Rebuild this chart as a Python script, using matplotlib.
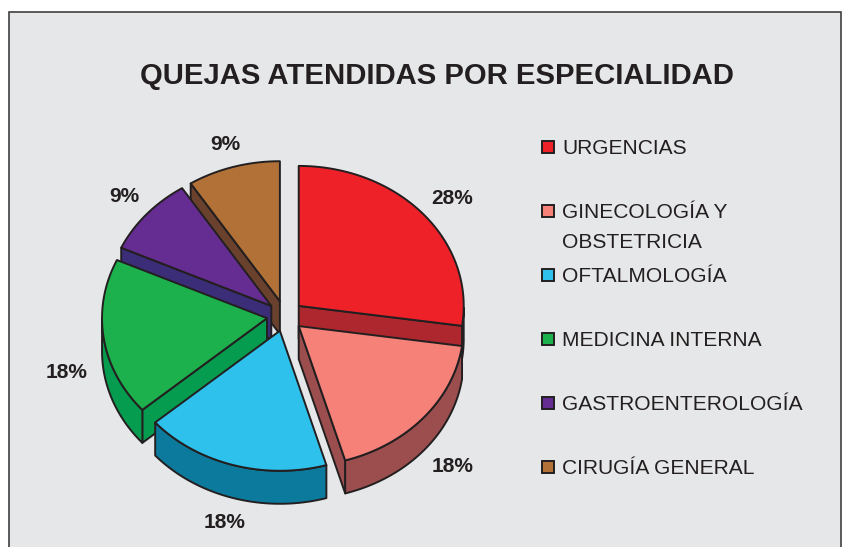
import numpy as np
import matplotlib
matplotlib.use('Agg')
import matplotlib.pyplot as plt
from matplotlib.patches import Polygon, Rectangle

plt.rcParams['font.family'] = ['Liberation Sans', 'DejaVu Sans']

# donnees
categories = ['URGENCIAS', 'GINECOLOGÍA Y\nOBSTETRICIA', 'OFTALMOLOGÍA',
              'MEDICINA INTERNA', 'GASTROENTEROLOGÍA', 'CIRUGÍA GENERAL']
valeurs = [27.3, 18.2, 18.2, 18.2, 9.1, 9.1]  # taille des parts, mesuree sur l'image
etiquettes = ['28%', '18%', '18%', '18%', '9%', '9%']

# style
couleurs = ['#EE2129', '#F58179', '#2DC1EB', '#1CB14D', '#652D91', '#B27237']
flancs = ['#AE272E', '#9C4E4E', '#0C7A9C', '#069C4F', '#3B2D78', '#6A412C']
explode = [0.11, 0.11, 0.11, 0.11, 0.11, 0.11]
pos_pct = [(452, 198), (453, 467), (225, 523), (67, 373), (124, 196), (225, 145)]
ordre = [5, 4, 3, 0, 1, 2]  # du fond vers l'avant

noir = '#231F20'
fond = '#E6E7E8'
cx, cy = 285, 316
rx, ry = 165, 140
prof = 33

fig = plt.figure(figsize=(8.5, 5.47), dpi=100)
ax = fig.add_axes([0, 0, 1, 1])
ax.set_xlim(0, 850)
ax.set_ylim(547, 0)
ax.axis('off')

ax.add_patch(Rectangle((9.5, 11.5), 831.5, 560, fc=fond, ec='#404041', lw=1.2, zorder=0))

bornes = np.cumsum([0] + valeurs) / sum(valeurs) * 2 * np.pi


def point(a, r=1.0):
    return np.array([r * rx * np.sin(a), -r * ry * np.cos(a)])


for z, i in enumerate(ordre):
    a0, a1 = bornes[i], bornes[i + 1]
    sommet = np.array([cx, cy]) + point((a0 + a1) / 2, explode[i])
    t = np.linspace(a0, a1, 80)
    arc = np.array([sommet + point(a) for a in t])
    kw = dict(ec=noir, lw=1.4, joinstyle='round', zorder=z + 1)
    # seuls les flancs tournes vers le bas se voient
    if np.sin(a0) < 0:
        ax.add_patch(Polygon([sommet, arc[0], arc[0] + [0, prof], sommet + [0, prof]], fc=flancs[i], **kw))
    if np.sin(a1) > 0:
        ax.add_patch(Polygon([sommet, arc[-1], arc[-1] + [0, prof], sommet + [0, prof]], fc=flancs[i], **kw))
    vu = np.cos(t) < 0
    if vu.any():
        ax.add_patch(Polygon(np.vstack([arc[vu], arc[vu][::-1] + [0, prof]]), fc=flancs[i], **kw))
    ax.add_patch(Polygon(np.vstack([[sommet], arc]), fc=couleurs[i], **kw))

ax.text(437, 76, 'QUEJAS ATENDIDAS POR ESPECIALIDAD', fontsize=21.1, fontweight='bold',
        color=noir, ha='center', va='center', zorder=20)

for txt, (x, y) in zip(etiquettes, pos_pct):
    ax.text(x, y, txt, fontsize=15, fontweight='bold', color=noir,
            ha='center', va='center', zorder=20)

for i, nom in enumerate(categories):
    y = 147 + 64 * i
    ax.add_patch(Rectangle((542, y - 6), 12, 12, fc=couleurs[i], ec=noir, lw=1.4, zorder=20))
    for j, ligne in enumerate(nom.split('\n')):
        ax.text(562, y + 2 + 30 * j, ligne, fontsize=15.1, color=noir, ha='left',
                va='center', zorder=20)

plt.savefig('out.png', dpi=100)
